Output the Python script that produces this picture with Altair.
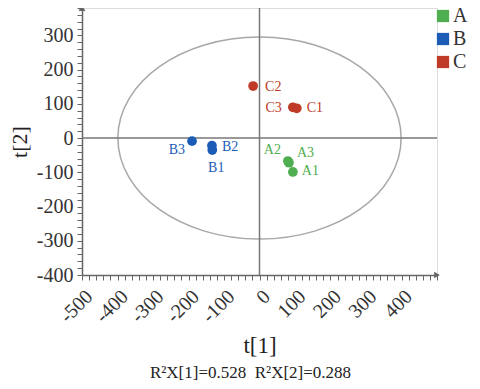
import altair as alt
import pandas as pd

# ---- data ----
sample_names = ["A1", "A2", "A3", "B1", "B2", "B3", "C1", "C2", "C3"]
groups       = ["A",  "A",  "A",  "B",  "B",  "B",  "C",  "C",  "C"]
t1_values    = [94,   80,   83,   -133, -134, -190, 105,  -18,  94]
t2_values    = [-99,  -67,  -72,  -35,  -22,  -9,   87,   152,  90]

group_names  = ["A", "B", "C"]
group_colors = ["#4fae4f", "#1c5cb6", "#c03a28"]

ellipse_radii = [399, 295]          # Hotelling T2 ellipse half-axes (t[1], t[2])
x_domain = [-500, 500]
y_domain = [-400, 380]
x_ticks = list(range(-500, 501, 20))
y_ticks = list(range(-400, 381, 20))

footer = "R\u00b2X[1]=0.528\u00a0\u00a0R\u00b2X[2]=0.288"

# label placement styles (pixel offsets relative to the point)
label_style = {
    "A1": dict(align="left", dx=9, dy=-1),
    "A2": dict(align="right", dx=-7, dy=-11),
    "A3": dict(align="left", dx=8, dy=-10),
    "B1": dict(align="center", dx=4, dy=18),
    "B2": dict(align="left", dx=10, dy=1),
    "B3": dict(align="right", dx=-7, dy=9),
    "C1": dict(align="left", dx=10, dy=0),
    "C2": dict(align="left", dx=12, dy=1),
    "C3": dict(align="right", dx=-11, dy=1),
}

W, H = 355, 267
SERIF = "Liberation Serif"

df = pd.DataFrame({"name": sample_names, "group": groups, "t1": t1_values, "t2": t2_values})

xs = alt.Scale(domain=x_domain, nice=False, zero=False)
ys = alt.Scale(domain=y_domain, nice=False, zero=False)

px_x = W / (x_domain[1] - x_domain[0])
px_y = H / (y_domain[1] - y_domain[0])
ell_w = 2 * ellipse_radii[0] * px_x
ell_h = 2 * ellipse_radii[1] * px_y
ratio = ell_h / ell_w
ell_path = f"M -1 0 A 1 {ratio:.4f} 0 1 0 1 0 A 1 {ratio:.4f} 0 1 0 -1 0 Z"

x_axis = alt.Axis(
    values=x_ticks, grid=False, title="t[1]",
    labelExpr="(datum.value % 100 == 0 && datum.value < 500) ? '' + datum.value : ''",
    labelAngle=315, labelFont=SERIF, labelFontSize=20, labelColor="#333",
    labelPadding=6, labelOverlap=False, labelBound=False, labelFlush=False,
    tickColor="#666", tickSize=5,
    domainColor="#666", domainWidth=1.5,
    titleFont=SERIF, titleFontSize=23, titleFontWeight="normal", titleColor="#222", titlePadding=8,
)
y_axis = alt.Axis(
    values=y_ticks, grid=False, title="t[2]",
    labelExpr="datum.value % 100 == 0 ? '' + datum.value : ''",
    labelFont=SERIF, labelFontSize=20, labelColor="#333", labelPadding=4,
    labelOverlap=False, labelBound=False, labelFlush=False,
    tickColor="#666", tickSize=5,
    domainColor="#666", domainWidth=1.5,
    titleFont=SERIF, titleFontSize=22, titleFontWeight="normal", titleColor="#222", titlePadding=5,
)


def X(field):
    return alt.X(field, type="quantitative", scale=xs, axis=x_axis)


def Y(field):
    return alt.Y(field, type="quantitative", scale=ys, axis=y_axis)


base_ell = pd.DataFrame({"t1": [0], "t2": [0]})
ellipse = alt.Chart(base_ell).mark_point(
    shape=ell_path, size=ell_w ** 2, filled=True, fill="white", stroke="#a8a8a8",
    strokeWidth=1.5, opacity=1,
).encode(x=X("t1"), y=Y("t2"))

vrule = alt.Chart(pd.DataFrame({"t1": [0]})).mark_rule(color="#777", strokeWidth=1.5).encode(x=X("t1"))
hrule = alt.Chart(pd.DataFrame({"t2": [0]})).mark_rule(color="#777", strokeWidth=1.5).encode(y=Y("t2"))

arrows = pd.DataFrame({"t1": [x_domain[0], x_domain[1]], "t2": [y_domain[1], y_domain[0]],
                       "shape": ["triangle-up", "triangle-right"]})
arrow_layer = alt.Chart(arrows).mark_point(filled=True, color="#666", size=45, opacity=1, clip=False).encode(
    x=X("t1"), y=Y("t2"),
    shape=alt.Shape("shape:N", scale=None, legend=None))

color_scale = alt.Scale(domain=group_names, range=group_colors)
points = alt.Chart(df).mark_circle(size=95, opacity=1).encode(
    x=X("t1"), y=Y("t2"),
    color=alt.Color("group:N", scale=color_scale, legend=alt.Legend(
        title=None, orient="none", legendX=351, legendY=-2, symbolType="square",
        symbolSize=150, symbolStrokeWidth=0, labelFont=SERIF, labelFontSize=20,
        labelColor="#333", rowPadding=3, labelOffset=0)),
)

label_layers = []
for nm in sample_names:
    st = label_style[nm]
    label_layers.append(
        alt.Chart(df).transform_filter(alt.datum.name == nm).mark_text(
            font=SERIF, fontSize=14, baseline="middle", **st).encode(
            x=X("t1"), y=Y("t2"),
            text="name:N",
            color=alt.Color("group:N", scale=color_scale, legend=None))
    )

chart = alt.layer(ellipse, vrule, hrule, arrow_layer, points, *label_layers).properties(
    width=W, height=H,
    autosize=alt.AutoSizeParams(type="none"),
    padding={"left": 74, "top": 0, "right": 35, "bottom": 106},
    title=alt.TitleParams(footer, orient="bottom", font=SERIF, fontSize=17,
                          fontWeight="normal", color="#222", offset=8, dx=-9),
).configure_view(fill="#efefef", strokeOpacity=0).configure(
    background="white", font=SERIF
).configure_axis(labelFont=SERIF, titleFont=SERIF)

chart.save("out.html", embed_options={"renderer": "svg", "actions": False})
